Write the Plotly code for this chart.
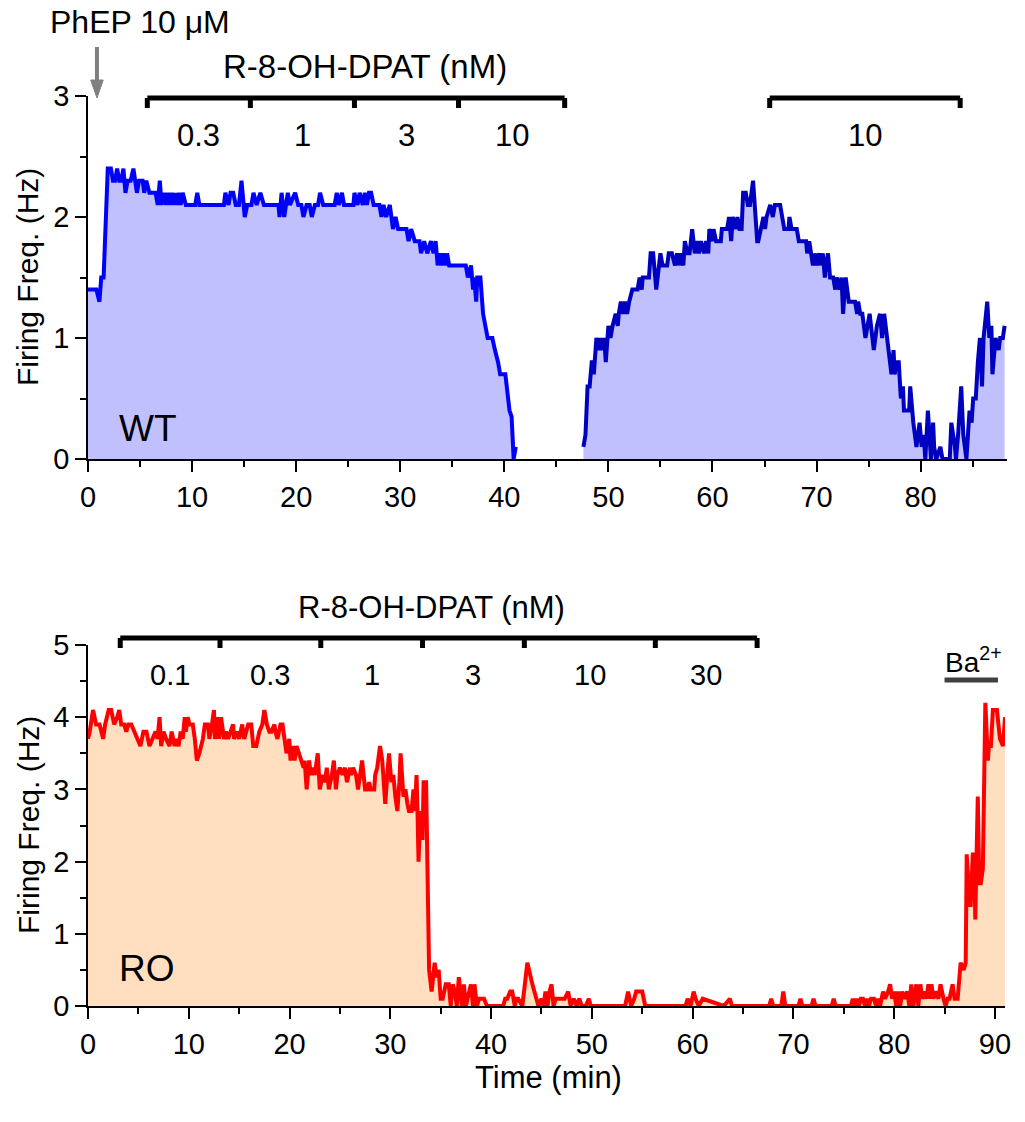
import plotly.graph_objects as go

# ---------------- data ----------------
# WT, first segment (min, Hz)
wt1_t = [0.0, 0.8, 1.1, 1.27, 1.5, 1.9, 2.2, 2.4, 2.6, 2.8, 3.0, 3.2, 3.4, 3.6, 3.8, 4.1, 4.36, 4.7, 4.9, 5.25,
         5.4, 5.6, 5.9, 6.5, 6.7, 6.9, 7.07, 7.3, 7.5, 7.7, 7.9, 8.06, 8.3, 8.4, 8.6, 8.75, 8.9, 9.1, 9.4, 10.3,
         10.5, 10.7, 13.06, 13.2, 13.5, 13.7, 13.95, 14.2, 14.5, 14.75, 15.06, 15.3, 15.7, 15.9, 16.2, 16.56, 16.9, 18.3, 18.4, 18.6,
         18.85, 19.2, 19.4, 19.9, 20.2, 20.5, 20.7, 21.0, 21.3, 21.5, 21.8, 22.1, 22.3, 22.6, 23.7, 23.9, 24.1, 24.4, 24.6, 25.5,
         25.6, 25.9, 26.1, 26.4, 26.6, 26.8, 27.0, 27.2, 27.45, 28.0, 28.2, 28.4, 28.65, 29.0, 29.3, 29.55, 29.8, 30.6, 30.8, 31.05,
         31.4, 31.85, 32.0, 32.3, 32.6, 32.95, 33.2, 33.4, 33.6, 33.8, 34.0, 34.2, 34.4, 34.5, 34.7, 36.3, 36.5, 36.8, 37.0, 37.1,
         37.3, 37.4, 37.7, 37.96, 38.4, 38.85, 39.1, 39.4, 39.6, 40.1, 40.5, 40.7, 40.9, 41.1]
wt1_v = [1.4, 1.4, 1.3, 1.5, 1.5, 2.4, 2.4, 2.3, 2.3, 2.4, 2.3, 2.3, 2.4, 2.2, 2.3, 2.3, 2.4, 2.2, 2.3, 2.3,
         2.2, 2.3, 2.2, 2.2, 2.1, 2.3, 2.1, 2.2, 2.1, 2.2, 2.1, 2.2, 2.1, 2.2, 2.1, 2.2, 2.1, 2.2, 2.1, 2.1,
         2.2, 2.1, 2.1, 2.2, 2.1, 2.2, 2.2, 2.1, 2.1, 2.3, 2.0, 2.1, 2.1, 2.2, 2.1, 2.2, 2.1, 2.1, 2.0, 2.2,
         2.0, 2.2, 2.1, 2.2, 2.1, 2.1, 2.0, 2.1, 2.1, 2.0, 2.1, 2.1, 2.2, 2.1, 2.1, 2.2, 2.1, 2.2, 2.1, 2.1,
         2.2, 2.1, 2.2, 2.1, 2.2, 2.1, 2.2, 2.2, 2.1, 2.1, 2.0, 2.1, 2.0, 2.1, 1.9, 2.0, 1.9, 1.9, 1.8, 1.9,
         1.8, 1.8, 1.7, 1.8, 1.7, 1.8, 1.7, 1.8, 1.6, 1.7, 1.6, 1.7, 1.6, 1.7, 1.6, 1.6, 1.5, 1.6, 1.4, 1.5,
         1.3, 1.5, 1.5, 1.2, 1.0, 1.0, 0.9, 0.8, 0.7, 0.7, 0.4, 0.35, 0.0, 0.1]

# WT, second segment (min, Hz)
wt2_t = [47.6, 47.8, 48.0, 48.2, 48.4, 48.5, 48.6, 48.85, 49.1, 49.25, 49.4, 49.6, 49.75, 50.0, 50.2, 50.4, 50.7, 50.9, 51.0, 51.2,
         51.4, 51.6, 51.8, 52.0, 52.3, 52.8, 53.0, 53.2, 53.3, 53.9, 54.06, 54.3, 54.6, 55.0, 55.2, 55.65, 55.8, 56.1, 56.4, 56.6,
         56.8, 56.9, 57.2, 57.35, 57.6, 57.8, 58.05, 58.3, 58.5, 58.7, 58.9, 59.2, 59.4, 59.6, 59.7, 60.0, 60.1, 60.35, 60.8, 60.9,
         61.4, 61.6, 61.8, 61.95, 62.2, 62.4, 62.6, 62.8, 62.95, 63.2, 63.4, 63.6, 63.9, 64.3, 64.4, 64.9, 65.05, 65.2, 65.55, 65.8,
         66.0, 66.5, 66.9, 67.3, 67.4, 67.6, 68.1, 68.3, 69.0, 69.1, 69.3, 69.5, 69.65, 69.9, 70.0, 70.3, 70.4, 70.6, 70.8, 70.9,
         71.1, 71.3, 71.6, 71.8, 71.95, 72.2, 72.4, 72.55, 72.8, 73.1, 73.7, 73.9, 74.0, 74.2, 74.4, 74.7, 74.9, 75.1, 75.5, 75.8,
         76.1, 76.3, 76.5, 76.9, 77.2, 77.4, 77.5, 77.7, 77.9, 78.1, 78.3, 78.4, 78.9, 79.0, 79.3, 79.6, 79.9, 80.1, 80.3, 80.45,
         80.7, 81.0, 81.2, 81.3, 81.5, 81.9, 82.1, 82.8, 82.95, 83.3, 83.4, 83.6, 83.9, 84.1, 84.4, 84.7, 84.9, 85.05, 85.3, 85.5,
         85.7, 85.9, 86.05, 86.4, 86.6, 86.8, 86.9, 87.2, 87.5, 87.65, 87.9, 88.07]
wt2_v = [0.1, 0.2, 0.6, 0.6, 0.8, 0.8, 0.7, 1.0, 0.9, 1.0, 0.9, 1.0, 0.8, 1.1, 1.0, 1.1, 1.2, 1.1, 1.2, 1.3,
         1.2, 1.3, 1.2, 1.3, 1.4, 1.4, 1.5, 1.4, 1.5, 1.5, 1.7, 1.7, 1.4, 1.7, 1.6, 1.6, 1.7, 1.7, 1.6, 1.7,
         1.6, 1.7, 1.6, 1.8, 1.7, 1.7, 1.9, 1.7, 1.8, 1.7, 1.8, 1.7, 1.8, 1.7, 1.9, 1.8, 1.9, 1.8, 1.8, 1.9,
         1.9, 2.0, 1.8, 2.0, 1.9, 2.0, 1.9, 1.9, 2.2, 2.2, 2.1, 2.1, 2.3, 1.8, 1.8, 2.0, 1.9, 2.0, 2.1, 2.0,
         2.1, 2.1, 1.9, 1.9, 2.0, 1.9, 1.9, 1.8, 1.8, 1.7, 1.8, 1.7, 1.6, 1.7, 1.6, 1.7, 1.6, 1.7, 1.5, 1.6,
         1.7, 1.5, 1.5, 1.4, 1.5, 1.4, 1.5, 1.2, 1.5, 1.3, 1.3, 1.2, 1.3, 1.2, 1.2, 1.0, 1.1, 1.2, 0.9, 1.1,
         1.2, 1.0, 1.2, 0.9, 0.7, 0.9, 0.7, 0.8, 0.8, 0.5, 0.6, 0.4, 0.4, 0.6, 0.3, 0.1, 0.3, 0.1, 0.2, 0.0,
         0.4, 0.0, 0.3, 0.1, 0.0, 0.1, 0.0, 0.0, 0.3, 0.1, 0.0, 0.2, 0.6, 0.2, 0.0, 0.4, 0.3, 0.5, 0.5, 0.8,
         1.0, 0.6, 1.0, 1.3, 1.0, 1.1, 0.7, 1.0, 0.9, 1.0, 1.0, 1.1]

# RO (min, Hz)
ro_t = [0.0, 0.17, 0.5, 0.8, 1.15, 1.5, 1.7, 2.05, 2.3, 2.6, 2.9, 3.1, 3.3, 3.6, 3.8, 4.0, 4.3, 4.6, 4.95, 5.2,
        5.5, 5.8, 6.1, 6.4, 6.7, 6.9, 7.1, 7.26, 7.5, 7.75, 8.1, 8.3, 8.6, 8.75, 8.98, 9.2, 9.4, 9.6, 9.7, 9.9,
        10.07, 10.4, 10.6, 10.8, 11.05, 11.4, 11.6, 11.9, 12.05, 12.3, 12.5, 12.6, 12.9, 13.0, 13.2, 13.5, 13.7, 13.9, 14.1, 14.4,
        14.5, 14.8, 15.0, 15.3, 15.5, 15.7, 15.9, 16.2, 16.4, 16.7, 17.0, 17.3, 17.5, 17.75, 18.0, 18.2, 18.5, 18.6, 18.8, 19.1,
        19.3, 19.5, 19.7, 19.97, 20.1, 20.3, 20.5, 20.7, 20.96, 21.2, 21.4, 21.5, 21.7, 21.95, 22.1, 22.3, 22.5, 22.8, 23.0, 23.3,
        23.5, 23.7, 23.9, 24.2, 24.4, 24.6, 24.75, 25.0, 25.25, 25.5, 25.7, 26.0, 26.1, 26.3, 26.6, 26.8, 27.06, 27.2, 27.5, 27.7,
        27.9, 28.05, 28.4, 28.5, 28.7, 28.98, 29.2, 29.4, 29.5, 29.7, 29.87, 30.1, 30.3, 30.5, 30.7, 30.9, 31.02, 31.3, 31.5, 31.7,
        31.85, 32.1, 32.3, 32.45, 32.6, 32.7, 32.8, 33.0, 33.2, 33.3, 33.55, 33.85, 34.1, 34.4, 34.6, 34.8, 35.0, 35.2, 35.5, 35.8,
        36.0, 36.2, 36.4, 36.6, 36.8, 37.1, 37.3, 37.5, 38.0, 38.2, 38.35, 38.6, 38.8, 39.3, 39.6, 41.2, 41.4, 41.6, 41.9, 42.1,
        42.35, 42.5, 42.7, 43.1, 43.6, 44.1, 44.5, 44.7, 45.0, 45.2, 45.4, 45.6, 45.8, 46.0, 46.2, 46.4, 47.1, 47.3, 47.65, 47.9,
        48.2, 48.5, 48.75, 49.0, 49.4, 49.7, 49.9, 53.3, 53.6, 53.9, 54.2, 54.4, 55.0, 55.3, 59.3, 59.5, 59.8, 60.1, 60.3, 60.6,
        61.0, 63.1, 63.7, 63.9, 67.6, 67.8, 68.0, 68.8, 69.0, 69.2, 70.5, 70.7, 70.9, 71.8, 72.0, 72.2, 73.8, 74.0, 74.2, 75.7,
        75.9, 76.1, 76.3, 76.5, 76.7, 76.9, 77.1, 77.3, 77.5, 77.7, 78.0, 78.2, 78.4, 78.6, 78.9, 79.1, 79.4, 79.6, 79.8, 80.0,
        80.2, 80.4, 80.6, 80.8, 81.0, 81.3, 81.5, 81.7, 81.9, 82.2, 82.4, 82.6, 82.8, 83.0, 83.2, 83.4, 83.6, 83.7, 83.9, 84.1,
        84.4, 84.6, 84.9, 85.1, 85.3, 85.5, 85.8, 86.0, 86.3, 86.6, 86.9, 87.1, 87.2, 87.5, 87.6, 87.8, 87.95, 88.05, 88.3, 88.45,
        88.6, 88.8, 89.05, 89.3, 89.4, 89.6, 89.8, 90.2, 90.5, 90.8, 91.0]
ro_v = [3.7, 3.8, 4.1, 3.9, 3.9, 3.7, 3.9, 4.1, 4.1, 3.9, 4.0, 4.1, 3.9, 3.9, 3.8, 3.9, 3.9, 3.8, 3.7, 3.6,
        3.8, 3.8, 3.6, 3.7, 3.8, 3.7, 4.0, 3.6, 3.8, 3.7, 3.6, 3.8, 3.6, 3.7, 3.6, 3.8, 3.7, 4.0, 3.8, 4.0,
        3.9, 3.9, 3.7, 3.4, 3.5, 3.7, 3.9, 3.9, 3.7, 3.9, 4.1, 3.7, 4.0, 3.7, 4.0, 3.7, 3.8, 3.7, 3.8, 3.9,
        3.7, 3.8, 3.7, 3.9, 3.7, 3.8, 3.9, 3.9, 3.6, 3.6, 3.8, 3.9, 4.1, 3.9, 3.8, 3.8, 3.9, 3.8, 3.7, 3.9,
        3.9, 3.7, 3.5, 3.7, 3.4, 3.6, 3.4, 3.6, 3.5, 3.4, 3.3, 3.4, 3.0, 3.4, 3.2, 3.3, 3.2, 3.5, 3.0, 3.2,
        3.1, 3.3, 3.0, 3.2, 3.4, 3.0, 3.2, 3.3, 3.2, 3.3, 3.1, 3.3, 3.2, 3.3, 3.2, 3.0, 3.3, 3.4, 3.0, 3.0,
        3.1, 3.0, 3.0, 3.2, 3.3, 3.6, 3.4, 3.0, 2.8, 3.2, 3.5, 3.1, 3.2, 2.9, 2.7, 3.1, 3.5, 2.9, 3.0, 2.8,
        2.7, 2.7, 3.0, 2.7, 3.2, 2.7, 2.0, 2.7, 2.3, 3.1, 3.1, 0.5, 0.2, 0.6, 0.4, 0.5, 0.1, 0.1, 0.3, 0.3,
        0.0, 0.3, 0.2, 0.0, 0.4, 0.0, 0.3, 0.0, 0.3, 0.0, 0.3, 0.0, 0.1, 0.1, 0.0, 0.0, 0.1, 0.1, 0.2, 0.2,
        0.0, 0.1, 0.1, 0.0, 0.6, 0.3, 0.1, 0.0, 0.1, 0.0, 0.2, 0.0, 0.2, 0.3, 0.0, 0.1, 0.1, 0.1, 0.2, 0.0,
        0.1, 0.0, 0.1, 0.0, 0.0, 0.1, 0.0, 0.0, 0.2, 0.0, 0.1, 0.2, 0.2, 0.0, 0.0, 0.1, 0.0, 0.2, 0.1, 0.0,
        0.1, 0.0, 0.1, 0.0, 0.0, 0.1, 0.0, 0.0, 0.2, 0.0, 0.0, 0.1, 0.0, 0.0, 0.1, 0.0, 0.0, 0.1, 0.0, 0.0,
        0.1, 0.0, 0.1, 0.0, 0.1, 0.1, 0.0, 0.1, 0.0, 0.1, 0.1, 0.0, 0.1, 0.0, 0.2, 0.1, 0.2, 0.3, 0.1, 0.2,
        0.0, 0.2, 0.0, 0.2, 0.1, 0.2, 0.0, 0.3, 0.0, 0.3, 0.0, 0.3, 0.1, 0.2, 0.1, 0.3, 0.1, 0.3, 0.1, 0.2,
        0.1, 0.3, 0.1, 0.0, 0.1, 0.1, 0.3, 0.1, 0.1, 0.6, 0.5, 0.6, 2.1, 1.4, 1.4, 2.1, 2.1, 1.2, 2.9, 1.7,
        1.7, 1.9, 4.2, 3.4, 3.6, 3.6, 4.1, 4.1, 3.7, 3.6, 4.0]

# drug application brackets (min) and their labels
wt_bracket1_edges = [5.7, 15.6, 25.6, 35.6, 45.8]
wt_bracket1_labels = ["0.3", "1", "3", "10"]
wt_bracket2_edges = [65.5, 83.8]
wt_bracket2_labels = ["10"]
ro_bracket_edges = [3.2, 13.1, 23.1, 33.2, 43.3, 56.3, 66.4]
ro_bracket_labels = ["0.1", "0.3", "1", "3", "10", "30"]
ba_bar = [85.0, 90.3]
phep_time = 0.86

# ---------------- layout helpers ----------------
W, H = 1025, 1122
def py(px):
    return 1 - px / H
def pxx(px):
    return px / W

FONT = "Arial, Liberation Sans, sans-serif"
TICKF = dict(family=FONT, size=29, color="black")

fig = go.Figure()
fig.add_trace(go.Scatter(x=wt1_t, y=wt1_v, mode="lines", line=dict(color="#0000ff", width=4),
                         fill="tozeroy", fillcolor="#c0c0ff", xaxis="x", yaxis="y", showlegend=False))
fig.add_trace(go.Scatter(x=wt2_t, y=wt2_v, mode="lines", line=dict(color="#0000c0", width=4),
                         fill="tozeroy", fillcolor="#c0c0ff", xaxis="x", yaxis="y", showlegend=False))
fig.add_trace(go.Scatter(x=ro_t, y=ro_v, mode="lines", line=dict(color="#ff0000", width=4),
                         fill="tozeroy", fillcolor="#ffdfc0", xaxis="x2", yaxis="y2", showlegend=False))

axis_common = dict(showline=True, linecolor="black", linewidth=1.5, ticks="outside", ticklen=11,
                   tickwidth=1.5, tickcolor="black", showgrid=False, zeroline=False, tickfont=TICKF,
                   automargin=False)
minor_x = dict(dtick=5, ticklen=6, ticks="outside", tickcolor="black", tickwidth=1.5, showgrid=False)
minor_y = dict(dtick=0.5, ticklen=6, ticks="outside", tickcolor="black", tickwidth=1.5, showgrid=False)

fig.update_layout(
    template="none",
    width=W, height=H, margin=dict(l=0, r=0, t=0, b=0, pad=0, autoexpand=False),
    paper_bgcolor="white", plot_bgcolor="white", showlegend=False,
    xaxis=dict(domain=[pxx(88), pxx(1007)], range=[0, 88.3], anchor="y", dtick=10, tick0=0,
               minor=minor_x, **axis_common),
    yaxis=dict(domain=[py(459), py(96)], range=[0, 3], anchor="x", dtick=1, tick0=0,
               minor=minor_y, **axis_common),
    xaxis2=dict(domain=[pxx(88), pxx(1005)], range=[0, 91.0], anchor="y2", dtick=10, tick0=0,
                minor=minor_x, **axis_common),
    yaxis2=dict(domain=[py(1006), py(645)], range=[0, 5], anchor="x2", dtick=1, tick0=0,
                minor=minor_y, **axis_common),
)

shapes = []
annotations = []

def bracket(edges, labels, xref, y_line_px, y_tick_px, y_label_px, size):
    shapes.append(dict(type="line", xref=xref, yref="paper", x0=edges[0], x1=edges[-1],
                       y0=py(y_line_px), y1=py(y_line_px), line=dict(color="black", width=5)))
    for e in edges:
        shapes.append(dict(type="line", xref=xref, yref="paper", x0=e, x1=e,
                           y0=py(y_line_px), y1=py(y_tick_px), line=dict(color="black", width=5)))
    for i, lab in enumerate(labels):
        annotations.append(dict(x=(edges[i] + edges[i + 1]) / 2, y=py(y_label_px), xref=xref, yref="paper",
                                text=lab, showarrow=False, font=dict(family=FONT, size=size, color="black"),
                                xanchor="center", yanchor="middle"))

bracket(wt_bracket1_edges, wt_bracket1_labels, "x", 98, 108, 135, 31)
bracket(wt_bracket2_edges, wt_bracket2_labels, "x", 98, 108, 135, 31)
bracket(ro_bracket_edges, ro_bracket_labels, "x2", 638, 648, 675, 29)

# Ba2+ bar
shapes.append(dict(type="line", xref="x2", yref="paper", x0=ba_bar[0], x1=ba_bar[1],
                   y0=py(680), y1=py(680), line=dict(color="#404040", width=5)))
annotations.append(dict(x=(ba_bar[0] + ba_bar[1]) / 2 + 0.2, y=py(660), xref="x2", yref="paper",
                        text="Ba<sup>2+</sup>", showarrow=False, font=dict(family=FONT, size=28, color="black"),
                        xanchor="center", yanchor="middle"))

# PhEP arrow: shaft + filled head (shapes)
shapes.append(dict(type="line", xref="x", yref="paper", x0=phep_time, x1=phep_time,
                   y0=py(47), y1=py(84), line=dict(color="#808080", width=4)))
head_half = 0.6
shapes.append(dict(type="path", xref="x", yref="paper",
                   path=(f"M {phep_time - head_half},{py(80)} L {phep_time + head_half},{py(80)} "
                         f"L {phep_time},{py(98)} Z"),
                   fillcolor="#808080", line=dict(color="#808080", width=1)))

# text labels
def txt(x, y, text, size=31, xref="paper", yref="paper", angle=0, xanchor="center"):
    annotations.append(dict(x=x, y=y, xref=xref, yref=yref, text=text, showarrow=False, textangle=angle,
                            font=dict(family=FONT, size=size, color="black"), xanchor=xanchor, yanchor="middle"))

txt(pxx(140), py(22), "PhEP 10 μM", size=32)
txt(26.6, py(66), "R-8-OH-DPAT (nM)", size=33, xref="x")
txt(34.1, py(607), "R-8-OH-DPAT (nM)", size=31, xref="x2")
txt(pxx(117), py(428), "WT", size=37, xanchor="left")
txt(pxx(117), py(968), "RO", size=37, xanchor="left")
txt(pxx(28), py(277), "Firing Freq. (Hz)", size=30, angle=-90)
txt(pxx(28), py(825), "Firing Freq. (Hz)", size=30, angle=-90)
txt(pxx(548), py(1077), "Time (min)", size=31)

fig.update_layout(shapes=shapes, annotations=annotations)
fig.write_html("out.html")
